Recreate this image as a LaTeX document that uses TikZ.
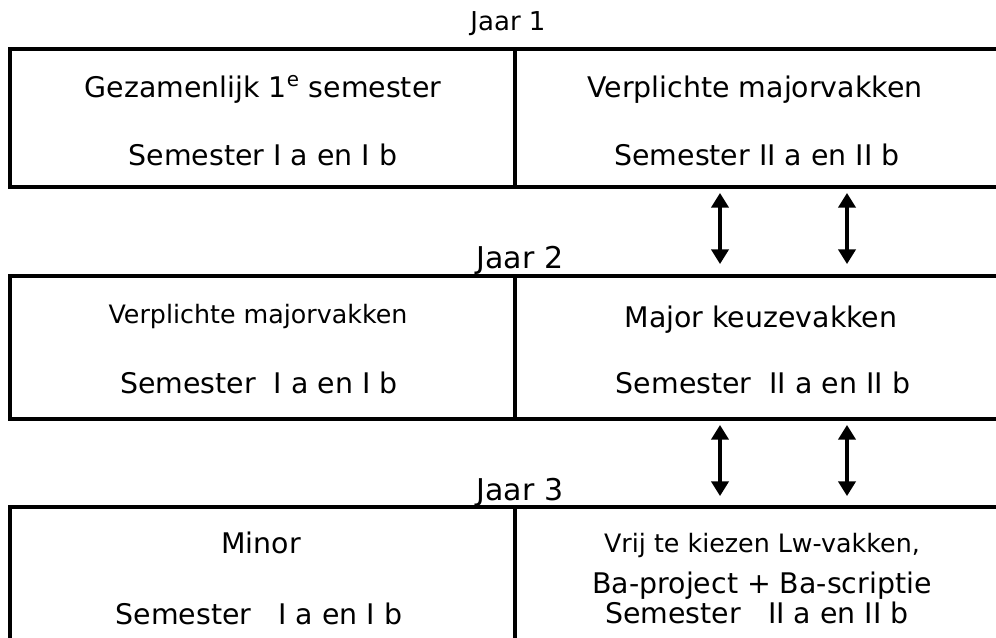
\documentclass[tikz,border=0pt]{standalone}
\usepackage{fontspec}
\setmainfont{DejaVu Sans}
\usetikzlibrary{arrows.meta}
\tikzset{frame/.style={line width=2.5pt}}
\tikzset{link/.style={line width=2.3pt, {Triangle[width=13pt,length=11pt]}-{Triangle[width=13pt,length=11pt]}}}
\newcommand{\maintxt}{\fontsize{21.3pt}{25pt}\selectfont}
\newcommand{\smalltxt}{\fontsize{19pt}{22pt}\selectfont}
\newcommand{\jaartxt}{\fontsize{19.5pt}{23pt}\selectfont}
\newcommand{\bigjaartxt}{\fontsize{22.5pt}{27pt}\selectfont}

\begin{document}
\begin{tikzpicture}[x=0.75pt,y=-0.75pt]
	% Default action for each node
	\tikzstyle{every node}=[inner sep=0pt, anchor=base, font=\maintxt];
	\useasboundingbox (0,0) rectangle (996,637);

	% Corners of the three years
	\coordinate (y1nw) at (10,49);	\coordinate (y1mid) at (515,49);	\coordinate (y1se) at (1010,187);	\coordinate (y1low) at (515,187);
	\coordinate (y2nw) at (10,276);	\coordinate (y2mid) at (515,276);	\coordinate (y2se) at (1010,419);	\coordinate (y2low) at (515,419);
	\coordinate (y3nw) at (10,507);	\coordinate (y3mid) at (515,507);	\coordinate (y3se) at (1010,660);	\coordinate (y3low) at (515,660);

	% Boxes
	\draw[frame] (y1nw) rectangle (y1se);
	\draw[frame] (y1mid) -- (y1low);
	\draw[frame] (y2nw) rectangle (y2se);
	\draw[frame] (y2mid) -- (y2low);
	\draw[frame] (y3nw) rectangle (y3se);
	\draw[frame] (y3mid) -- (y3low);

	% Year labels
	\node[font=\jaartxt] (jaar1) at (508,30) {Jaar 1};
	\node[font=\bigjaartxt] (jaar2) at (520,268) {Jaar 2};
	\node[font=\bigjaartxt] (jaar3) at (520,500) {Jaar 3};

	% Year 1
	\node (y1a) at (263,97) {Gezamenlijk 1\textsuperscript{e} semester};
	\node (y1b) at (263,165) {Semester I a en I b};
	\node (y1c) at (755,97) {Verplichte majorvakken};
	\node (y1d) at (757,165) {Semester II a en II b};

	% Year 2
	\node[font=\smalltxt] (y2a) at (258,323) {Verplichte majorvakken};
	\node (y2b) at (259,393) {Semester\ \ I a en I b};
	\node (y2c) at (761,327) {Major keuzevakken};
	\node (y2d) at (763,393) {Semester\ \ II a en II b};

	% Year 3
	\node (y3a) at (261,553) {Minor};
	\node (y3b) at (259,624) {Semester\ \ \ I a en I b};
	\node[font=\smalltxt] (y3c) at (762,552) {Vrij te kiezen Lw-vakken,};
	\node (y3d) at (762,593) {Ba-project + Ba-scriptie};
	\node (y3e) at (757,623) {Semester\ \ \ II a en II b};

	% Arrow ends
	\coordinate (a1top) at (720,193);	\coordinate (a1bot) at (720,264);	\coordinate (a2top) at (847,193);	\coordinate (a2bot) at (847,264);
	\coordinate (a3top) at (720,425);	\coordinate (a3bot) at (720,496);	\coordinate (a4top) at (847,425);	\coordinate (a4bot) at (847,496);

	% Arrows
	\draw[link] (a1top) -- (a1bot);
	\draw[link] (a2top) -- (a2bot);
	\draw[link] (a3top) -- (a3bot);
	\draw[link] (a4top) -- (a4bot);
\end{tikzpicture}
\end{document}
